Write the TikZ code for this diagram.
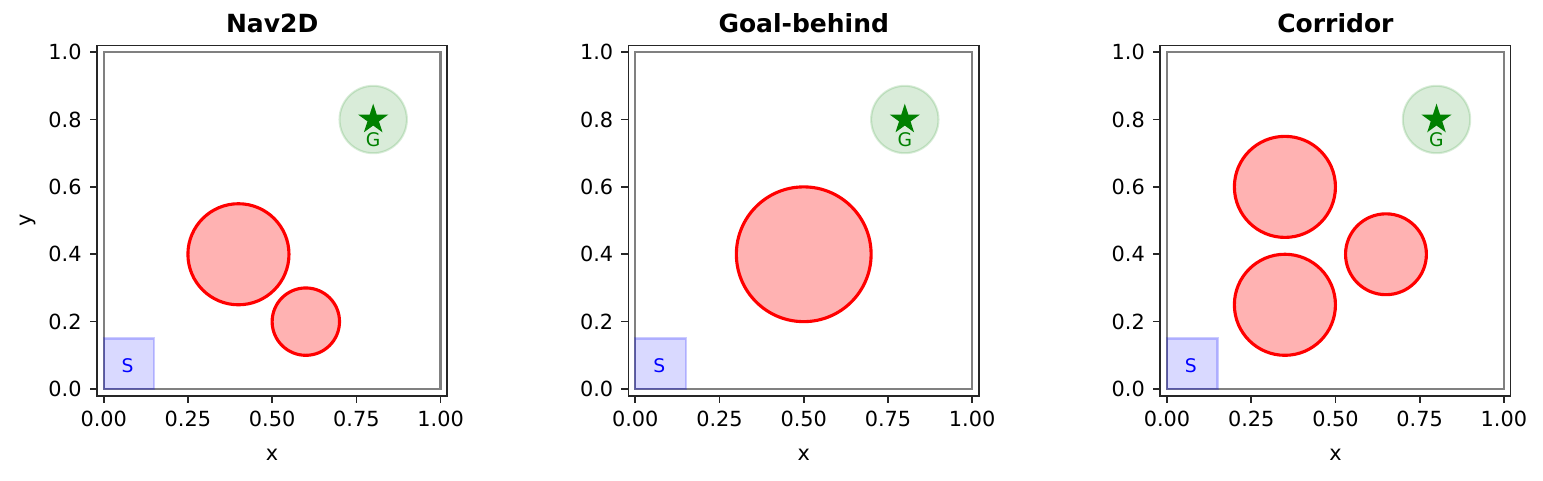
\documentclass[tikz,border=0pt]{standalone}
\usepackage{fontspec}
\setmainfont{DejaVu Sans}
\usetikzlibrary{shapes.geometric}
\definecolor{mplgreen}{HTML}{008000}
\definecolor{spine}{HTML}{262626}
\tikzset{
  spinebox/.style={draw=spine, line width=0.8pt},
  arena/.style={draw=black!50, line width=1.1pt},
  startbox/.style={fill=blue, fill opacity=0.15, draw=blue, draw opacity=0.2, line width=1pt},
  goalzone/.style={fill=mplgreen, fill opacity=0.15, draw=mplgreen, draw opacity=0.15, line width=1pt},
  obstacle/.style={fill=red!30, draw=red, line width=1.5pt},
  goalstar/.style={star, star points=5, star point ratio=2.618, fill=mplgreen, draw=none, minimum size=15.2pt, inner sep=0pt},
  ticklab/.style={font=\fontsize{10}{12}\selectfont, inner sep=0pt, text=black},
  axlab/.style={font=\fontsize{10}{12}\selectfont, inner sep=0pt},
  ptitle/.style={font=\fontsize{12}{14}\selectfont\bfseries, inner sep=0pt, anchor=base},
  smalllab/.style={font=\fontsize{9}{11}\selectfont, inner sep=0pt},
}
\newcommand{\mypanel}[3]{%
  \begin{scope}[shift={(#1,389)}, x=161.7pt, y=161.7pt]
    \draw[spinebox] (-0.02,-0.02) rectangle (1.02,1.02);
    \foreach \t/\l in {0/0.00,0.25/0.25,0.5/0.50,0.75/0.75,1/1.00}{
      \draw[spine, line width=0.8pt] (\t,-0.02) -- ++(0,-3.5pt)
        node[ticklab, anchor=north, yshift=-3.5pt] {\l};
    }
    \foreach \t/\l in {0/0.0,0.2/0.2,0.4/0.4,0.6/0.6,0.8/0.8,1/1.0}{
      \draw[spine, line width=0.8pt] (-0.02,\t) -- ++(-3.5pt,0)
        node[ticklab, anchor=east, xshift=-3.5pt] {\l};
    }
    \node[axlab, anchor=base] (xl#1) at (0.5,-0.213) {x};
    \node[ptitle] (tt#1) at (0.5,1.057) {#2};
    \draw[arena] (0,0) rectangle (1,1);
    \draw[startbox] (0,0) rectangle (0.15,0.15);
    \node[smalllab, text=blue] (s#1) at (0.071,0.07) {S};
    \draw[goalzone] (0.8,0.8) circle [radius=0.1];
    \node[goalstar] (g#1) at (0.8,0.8) {};
    \node[smalllab, text=mplgreen] (gl#1) at (0.8,0.74) {G};
    #3
  \end{scope}%
}
\begin{document}
\begin{tikzpicture}[x=0.48pt, y=-0.48pt]
  \useasboundingbox (0,0) rectangle (1543,480);
  \mypanel{103.7}{Nav2D}{%
    \draw[obstacle] (0.4,0.4) circle [radius=0.15];
    \draw[obstacle] (0.6,0.2) circle [radius=0.1];
    \node[axlab, rotate=90] (yl) at (-0.225,0.5) {y};
  }
  \mypanel{635.3}{Goal-behind}{%
    \draw[obstacle] (0.5,0.4) circle [radius=0.2];
  }
  \mypanel{1167}{Corridor}{%
    \draw[obstacle] (0.35,0.6) circle [radius=0.15];
    \draw[obstacle] (0.35,0.25) circle [radius=0.15];
    \draw[obstacle] (0.65,0.4) circle [radius=0.12];
  }
\end{tikzpicture}
\end{document}
